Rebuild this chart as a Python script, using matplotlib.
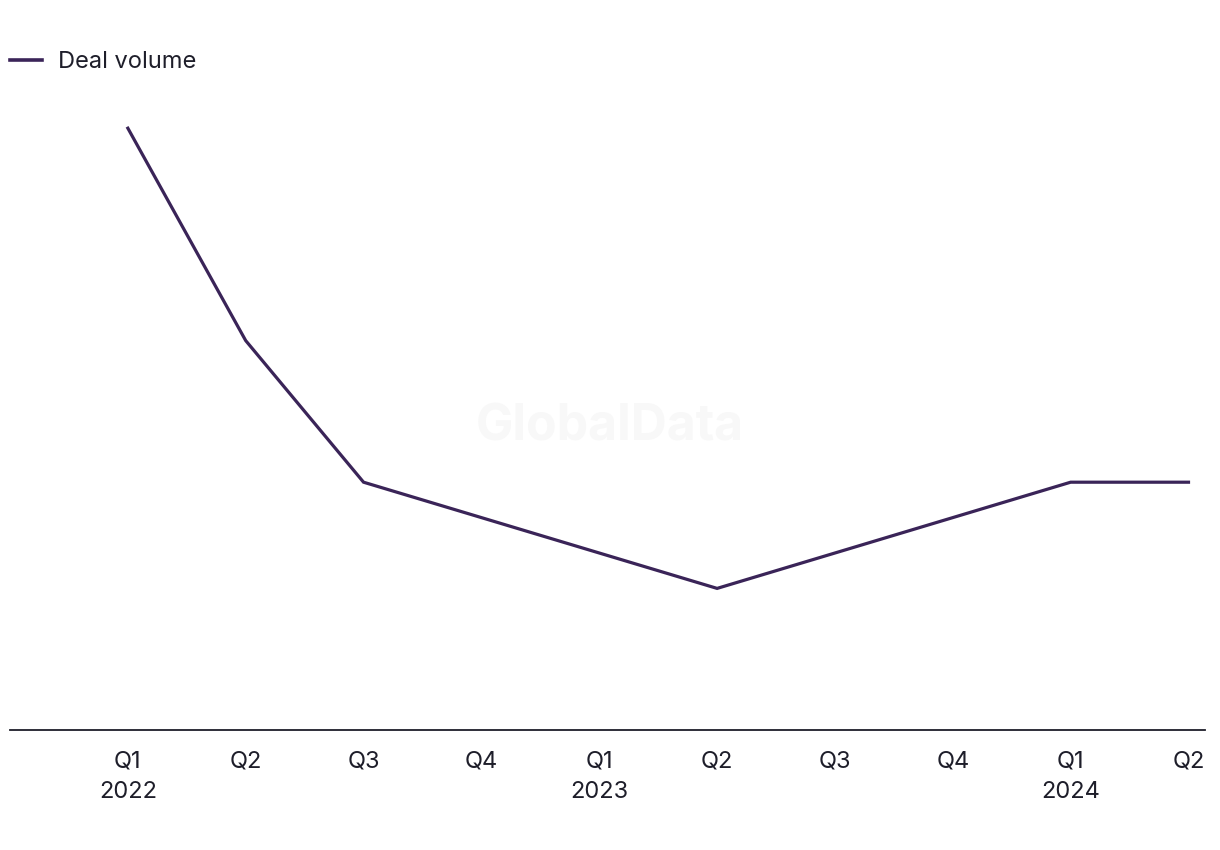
import matplotlib.pyplot as plt
from matplotlib.lines import Line2D

plt.rcParams['font.family'] = ['Inter', 'DejaVu Sans']

quarters = ["Q1\n2022", "Q2", "Q3", "Q4", "Q1\n2023", "Q2", "Q3", "Q4", "Q1\n2024", "Q2"]
deal_volume = [17, 11, 7, 6, 5, 4, 5, 6, 7, 7]

line_color = "#3a2458"
text_color = "#1e1e2a"

fig = plt.figure(figsize=(12.2, 8.5), dpi=100)
ax = fig.add_axes([10 / 1220, 1 - 730 / 850, 1195 / 1220, 708 / 850])

x = list(range(len(quarters)))
ax.plot(x, deal_volume, color=line_color, linewidth=2.3, solid_joinstyle="miter")

ax.set_xlim(-1, 9.14)
ax.set_ylim(0, 20)
ax.set_xticks(x)
ax.set_xticklabels(quarters, fontsize=17, color=text_color, linespacing=1.5)
ax.tick_params(axis="x", length=0, pad=15)
ax.set_yticks([])

for side in ["top", "right", "left"]:
    ax.spines[side].set_visible(False)
ax.spines["bottom"].set_color(text_color)
ax.spines["bottom"].set_linewidth(1.3)

# watermark
fig.text(0.5, 1 - 427 / 850, "GlobalData", fontsize=36, fontweight="bold",
         color="#f8f8f8", ha="center", va="center", zorder=0)

handle = Line2D([], [], color=line_color, linewidth=2.6)
fig.legend([handle], ["Deal volume"], loc="center left",
           bbox_to_anchor=(10 / 1220, 1 - 62 / 850), frameon=False, fontsize=17,
           handlelength=1.35, handletextpad=0.7, borderaxespad=0, borderpad=0,
           labelcolor=text_color)

fig.savefig("out.png", dpi=100)
